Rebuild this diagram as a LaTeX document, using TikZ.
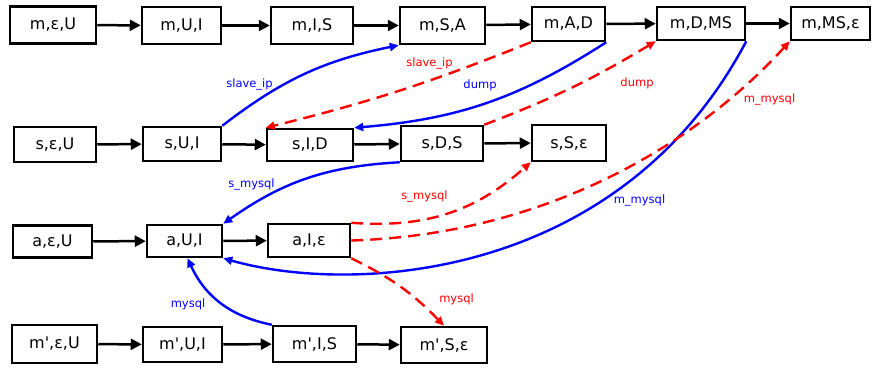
\documentclass[tikz,border=0pt]{standalone}
\usepackage{fontspec}
\setmainfont{DejaVu Sans}
\usetikzlibrary{arrows.meta}
\begin{document}
\begin{tikzpicture}[x=1pt,y=-1pt,
  box/.style={draw, line width=2.5pt, inner sep=0pt, font=\fontsize{16}{18}\selectfont},
  flow/.style={line width=2.5pt, -{Triangle[length=11pt,width=11pt]}},
  bl/.style={blue, line width=2.4pt, -{Triangle[length=9pt,width=8pt]}},
  rd/.style={red, line width=2.4pt, dash pattern=on 12pt off 7pt, -{Triangle[length=9pt,width=8pt]}},
  lab/.style={font=\fontsize{11.5}{13}\selectfont, inner sep=0pt},
]
\useasboundingbox (0,0) rectangle (873,369);
% row 1
\node[box, minimum width=86, minimum height=37] (m1) at (53,25) {m,ε,U};
\node[box, minimum width=79, minimum height=37] (m2) at (181.5,25.5) {m,U,I};
\node[box, minimum width=82, minimum height=37] (m3) at (312,25.5) {m,I,S};
\node[box, minimum width=85, minimum height=37] (m4) at (442.5,25.5) {m,S,A};
\node[box, minimum width=73, minimum height=34] (m5) at (568.5,24) {m,A,D};
\node[box, minimum width=88, minimum height=33] (m6) at (701,23.5) {m,D,MS};
\node[box, minimum width=79, minimum height=33] (m7) at (830.5,23.5) {m,MS,ε};
% row 2
\node[box, minimum width=82, minimum height=35] (s1) at (55,144.5) {s,ε,U};
\node[box, minimum width=78, minimum height=34] (s2) at (182,144) {s,U,I};
\node[box, minimum width=86, minimum height=32] (s3) at (310,145) {s,I,D};
\node[box, minimum width=82, minimum height=35] (s4) at (442,143.5) {s,D,S};
\node[box, minimum width=74, minimum height=36] (s5) at (569,143) {s,S,ε};
% row 3
\node[box, minimum width=79, minimum height=32] (a1) at (52.5,241.5) {a,ε,U};
\node[box, minimum width=75, minimum height=32] (a2) at (184.5,241) {a,U,I};
\node[box, minimum width=82, minimum height=33] (a3) at (309,240.5) {a,I,ε};
% row 4
\node[box, minimum width=85, minimum height=38] (p1) at (54.5,344) {m\textquotesingle,ε,U};
\node[box, minimum width=79, minimum height=35] (p2) at (182.5,344.5) {m\textquotesingle,U,I};
\node[box, minimum width=83, minimum height=36] (p3) at (314.5,344) {m\textquotesingle,I,S};
\node[box, minimum width=86, minimum height=36] (p4) at (444,345) {m\textquotesingle,S,ε};
% black flow
\draw[flow] (m1) -- (m2);
\draw[flow] (m2) -- (m3);
\draw[flow] (m3) -- (m4);
\draw[flow] (m4) -- (m5);
\draw[flow] (m5) -- (m6);
\draw[flow] (m6) -- (m7);
\draw[flow] (s1) -- (s2);
\draw[flow] (s2) -- (s3);
\draw[flow] (s3) -- (s4);
\draw[flow] (s4) -- (s5);
\draw[flow] (a1) -- (a2);
\draw[flow] (a2) -- (a3);
\draw[flow] (p1) -- (p2);
\draw[flow] (p2) -- (p3);
\draw[flow] (p3) -- (p4);
% coloured edges
\draw[bl] (s2.north east) to[bend left=13] (m4.south west);
\draw[rd] (m5.south west) to[bend left=4] (s3.north west);
\draw[bl] (m5.south east) to[bend left=14] (s3.north east);
\draw[rd] (s4.north east) to[bend right=5] (m6.south west);
\draw[bl] (m6.south east) .. controls +(-126,239) and +(130,37) .. (a2.south east);
\draw[rd] (a3.east) .. controls +(199,-6) and +(-90,99) .. (m7.south west);
\draw[bl] (s4.south west) to[bend right=16] (a2.north east);
\draw[rd] (a3.north east) to[bend right=23] (s5.south west);
\draw[bl] (p3.north west) to[bend left=27] ([xshift=3pt]a2.south);
\draw[rd] (a3.south east) to[bend left=10] (p4.north);
% labels
\node[lab, blue] (l1) at (249.5,84) {slave\_ip};
\node[lab, red] (l2) at (429.5,63) {slave\_ip};
\node[lab, blue] (l3) at (480,85) {dump};
\node[lab, red] (l4) at (637,83) {dump};
\node[lab, red] (l5) at (769.5,99) {m\_mysql};
\node[lab, blue] (l6) at (251.5,184) {s\_mysql};
\node[lab, red] (l7) at (424.5,196) {s\_mysql};
\node[lab, blue] (l8) at (639.5,200) {m\_mysql};
\node[lab, blue] (l9) at (188,304) {mysql};
\node[lab, red] (l10) at (456.5,299) {mysql};
\end{tikzpicture}
\end{document}
